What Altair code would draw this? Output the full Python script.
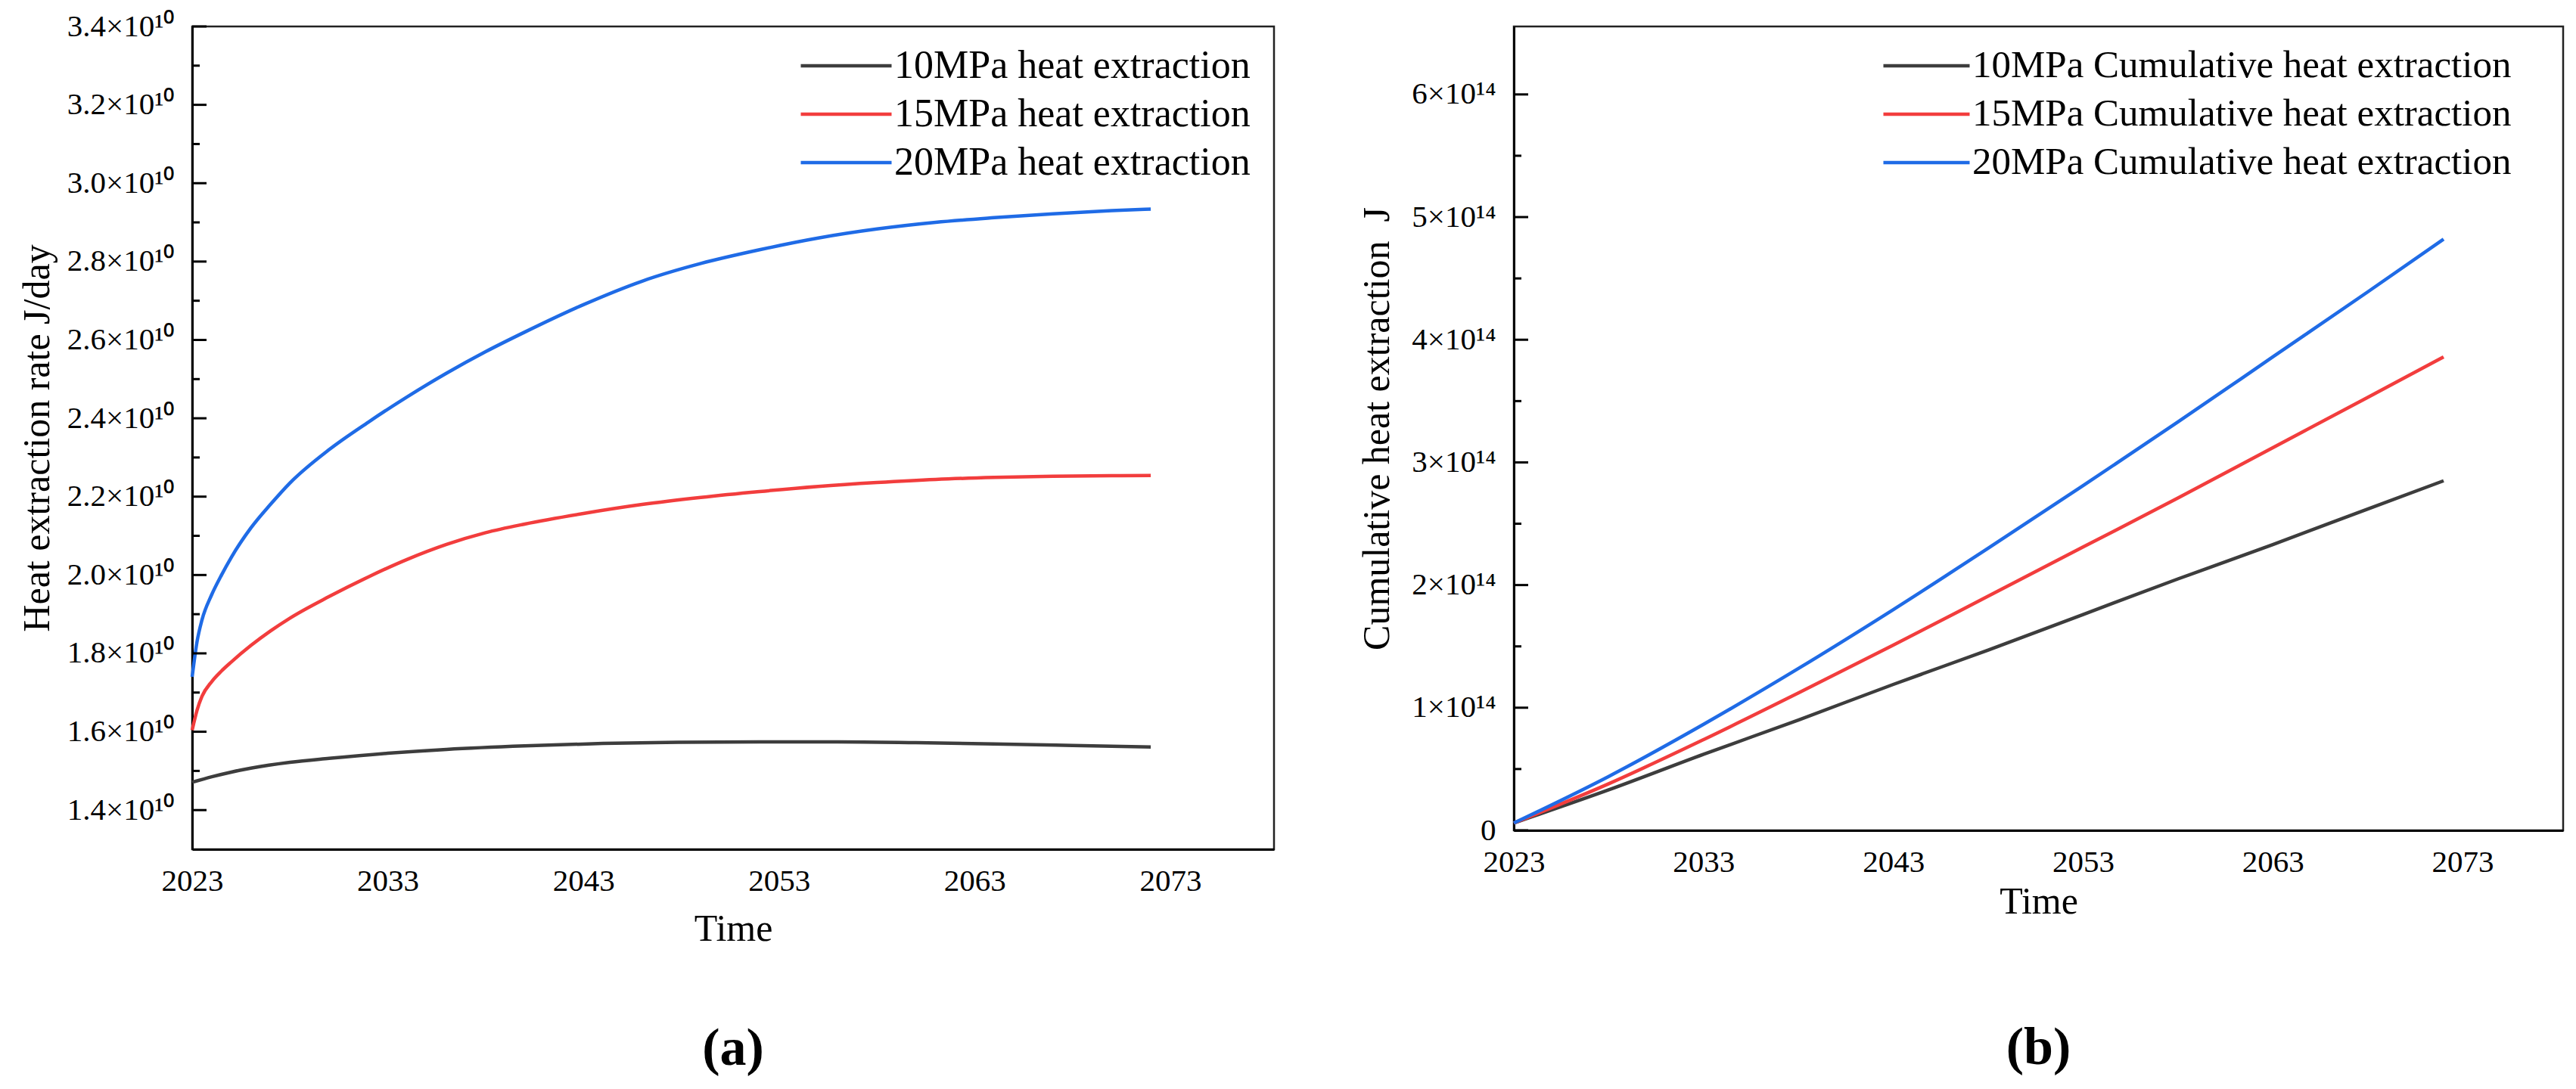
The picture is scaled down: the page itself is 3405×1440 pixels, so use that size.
import altair as alt
import pandas as pd

FONT = "Liberation Serif"

# ---------------- panel (a): heat extraction rate, J/day (in units of 1e10) ----------------
YEARS_BLUE_A = [2023, 2023.25, 2023.5, 2024, 2024.5, 2025, 2026, 2027, 2028, 2030, 2032, 2034, 2036,
                2038, 2040, 2043, 2046, 2049, 2052, 2055, 2058, 2061, 2064, 2067, 2070, 2072]
BLUE_A = [1.74, 1.83, 1.885, 1.95, 2.00, 2.045, 2.12, 2.18, 2.235, 2.32, 2.39, 2.455, 2.515,
          2.57, 2.62, 2.69, 2.75, 2.795, 2.83, 2.86, 2.883, 2.90, 2.912, 2.922, 2.93, 2.934]

YEARS_RED_A = [2023, 2023.25, 2023.5, 2024, 2024.5, 2025, 2026, 2027, 2028, 2030, 2032, 2034, 2036,
               2038, 2040, 2043, 2046, 2049, 2052, 2055, 2058, 2061, 2064, 2067, 2070, 2072]
RED_A = [1.604, 1.655, 1.69, 1.728, 1.755, 1.778, 1.82, 1.857, 1.89, 1.945, 1.995, 2.04, 2.078,
         2.108, 2.13, 2.157, 2.18, 2.198, 2.213, 2.226, 2.236, 2.244, 2.249, 2.252, 2.2535, 2.254]

YEARS_BLACK_A = [2023, 2024, 2025, 2026, 2028, 2030, 2033, 2036, 2040, 2044, 2048, 2052, 2056,
                 2060, 2064, 2068, 2072]
BLACK_A = [1.471, 1.485, 1.497, 1.507, 1.522, 1.532, 1.545, 1.555, 1.564, 1.570, 1.573, 1.574, 1.574,
           1.572, 1.569, 1.565, 1.561]

SERIES_A = ["10MPa heat extraction", "15MPa heat extraction", "20MPa heat extraction"]
Y_TICKS_A = [1.4, 1.6, 1.8, 2.0, 2.2, 2.4, 2.6, 2.8, 3.0, 3.2, 3.4]
Y_MINOR_A = [1.5, 1.7, 1.9, 2.1, 2.3, 2.5, 2.7, 2.9, 3.1, 3.3]

# ---------------- panel (b): cumulative heat extraction, J (in units of 1e14) ----------------
YEARS_B = [2023, 2028, 2033, 2038, 2043, 2048, 2053, 2058, 2063, 2068, 2072]
BLUE_B = [0.06, 0.44, 0.865, 1.32, 1.80, 2.30, 2.81, 3.33, 3.86, 4.39, 4.82]
RED_B = [0.06, 0.38, 0.74, 1.12, 1.51, 1.91, 2.31, 2.71, 3.12, 3.53, 3.86]
BLACK_B = [0.06, 0.33, 0.62, 0.90, 1.19, 1.47, 1.76, 2.05, 2.33, 2.62, 2.85]

SERIES_B = ["10MPa Cumulative heat extraction", "15MPa Cumulative heat extraction",
            "20MPa Cumulative heat extraction"]
Y_TICKS_B = [0, 1, 2, 3, 4, 5, 6]
Y_MINOR_B = [0.5, 1.5, 2.5, 3.5, 4.5, 5.5]

X_TICKS = [2023, 2033, 2043, 2053, 2063, 2073]
COLORS = ["#3d3d3d", "#f23d3d", "#1f6be6"]

# ---------------- tables ----------------
rows_a = []
for yrs, vals, s in [(YEARS_BLACK_A, BLACK_A, SERIES_A[0]), (YEARS_RED_A, RED_A, SERIES_A[1]),
                     (YEARS_BLUE_A, BLUE_A, SERIES_A[2])]:
    for t, v in zip(yrs, vals):
        rows_a.append({"year": t, "value": v * 1e10, "series": s})
df_a = pd.DataFrame(rows_a)

rows_b = []
for vals, s in [(BLACK_B, SERIES_B[0]), (RED_B, SERIES_B[1]), (BLUE_B, SERIES_B[2])]:
    for t, v in zip(YEARS_B, vals):
        rows_b.append({"year": t, "value": v * 1e14, "series": s})
df_b = pd.DataFrame(rows_b)

x_scale = alt.Scale(domain=[2023, 2078.3], nice=False, zero=False)


def legend(x, y, fs, sym):
    return alt.Legend(orient="none", legendX=x, legendY=y, title=None, symbolType="stroke",
                      symbolSize=sym * sym, symbolStrokeWidth=4.5, labelFont=FONT,
                      labelFontSize=fs, labelColor="black", labelOffset=1, clipHeight=52,
                      rowPadding=12, padding=0, labelLimit=1000)


def panel(df, series, ytitle, ydomain, yticks, yminor, unit, label_expr, lx, ly, lfs, sym,
          extent, w, h, xtitle_pad, sub_offset, sub):
    ysc = alt.Scale(domain=ydomain, nice=False, zero=False)
    yaxis = alt.Axis(values=[v * unit for v in yticks], labelExpr=label_expr,
                     title=ytitle, labelPadding=24, titlePadding=6,
                     minExtent=extent, maxExtent=extent)
    lines = alt.Chart(df).mark_line(strokeWidth=4.5, interpolate="monotone").encode(
        x=alt.X("year:Q", scale=x_scale,
                axis=alt.Axis(values=X_TICKS, format="d", title="Time", labelPadding=22,
                              titlePadding=xtitle_pad)),
        y=alt.Y("value:Q", scale=ysc, axis=yaxis),
        color=alt.Color("series:N", scale=alt.Scale(domain=series, range=COLORS),
                        legend=legend(lx, ly, lfs, sym)),
    )
    major = alt.Chart(pd.DataFrame({"value": [v * unit for v in yticks]})).mark_rule(
        strokeWidth=3, color="black").encode(
        y=alt.Y("value:Q", scale=ysc, axis=yaxis), x=alt.value(0), x2=alt.value(19))
    minor = alt.Chart(pd.DataFrame({"value": [v * unit for v in yminor]})).mark_rule(
        strokeWidth=3, color="black").encode(
        y=alt.Y("value:Q", scale=ysc, axis=yaxis), x=alt.value(0), x2=alt.value(10))
    return alt.layer(lines, major, minor).properties(
        width=w, height=h,
        title=alt.TitleParams(sub, orient="bottom", font=FONT, fontSize=70, fontWeight="bold",
                              color="black", offset=sub_offset),
    )


left = panel(df_a, SERIES_A, "Heat extraction rate J/day", [1.3e10, 3.4e10], Y_TICKS_A, Y_MINOR_A,
             1e10, "format(datum.value / 1e10, '.1f') + '×10¹⁰'", 802, 26, 52, 120, 174,
             1430, 1088, 18, 100, "(a)")
right = panel(df_b, SERIES_B, "Cumulative heat extraction\u00a0\u00a0J", [0, 6.554e14], Y_TICKS_B,
              Y_MINOR_B, 1e14, "datum.value == 0 ? '0' : format(datum.value / 1e14, 'd') + '×10¹⁴'",
              486, 26, 51, 114, 150, 1387, 1063, 7, 135, "(b)")

chart = alt.hconcat(left, right, spacing=107).resolve_scale(color="independent").properties(
    padding={"left": 14, "top": 4, "right": 5, "bottom": 5}, background="white"
).configure_view(stroke="#222222", strokeWidth=2.5).configure_axis(
    labelFont=FONT, labelFontSize=41, labelColor="black", titleFont=FONT, titleFontSize=50,
    titleFontWeight="normal", titleColor="black", domainColor="black", domainWidth=3,
    ticks=False, tickSize=0, grid=False, labelFlush=False
)

chart.save("out.html", embed_options={"renderer": "svg", "actions": False})
